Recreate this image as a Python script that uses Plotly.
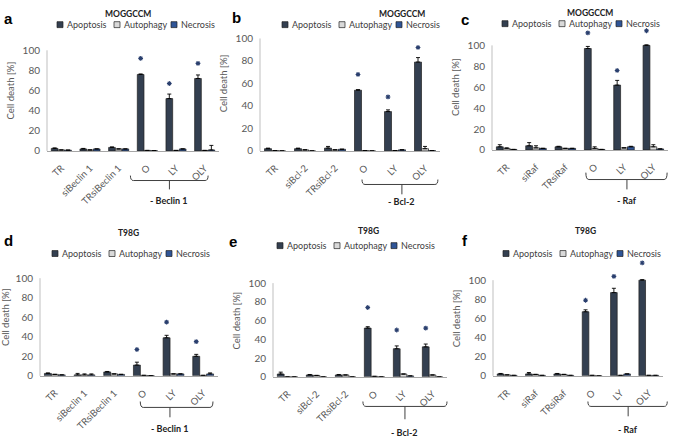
import plotly.graph_objects as go

W, H = 676, 444
FONT = "Lato"
C_APO = "#333f50"
C_AUTO = "#d9d9d9"
C_NEC = "#2f5597"
C_EDGE = "#1f1f1f"
C_TXT = "#595959"
C_STAR = "#2a3f6e"
BARGAP = 0.3
Y_TOP = 120  # head-room above 100 for the significance asterisks

series_names = ["Apoptosis", "Autophagy", "Necrosis"]
series_colors = [C_APO, C_AUTO, C_NEC]

cats_beclin = ["TR", "siBeclin 1", "TRsiBeclin 1", "O", "LY", "OLY"]
cats_bcl = ["TR", "siBcl-2", "TRsiBcl-2", "O", "LY", "OLY"]
cats_raf = ["TR", "siRaf", "TRsiRaf", "O", "LY", "OLY"]
y_ticks = [0, 20, 40, 60, 80, 100]
y_max = 100

# ---- panel a: MOGGCCM, - Beclin 1
apo_a = [2.5, 2.0, 3.5, 76, 52, 72]
apo_err_a = [0.5, 0.5, 0.5, 0.5, 4.5, 3.5]
auto_a = [1.0, 1.0, 2.0, 0.5, 0.5, 0.5]
auto_err_a = [0, 0, 0, 0, 0, 0]
nec_a = [0.8, 2.0, 2.0, 0.3, 2.0, 1.0]
nec_err_a = [0, 0, 0, 0, 0, 4.5]
stars_a = [92, 67, 87]

# ---- panel b: MOGGCCM, - Bcl-2
apo_b = [2.0, 2.0, 2.5, 54, 35, 79]
apo_err_b = [0.5, 0.5, 1.5, 0.5, 1.5, 4.0]
auto_b = [0.3, 1.0, 1.0, 0.3, 0.3, 2.0]
auto_err_b = [0, 0, 0, 0, 0, 2.0]
nec_b = [0, 0, 1.5, 0, 1.0, 0.3]
nec_err_b = [0, 0, 0, 0, 0, 0]
stars_b = [68, 48, 92]

# ---- panel c: MOGGCCM, - Raf
apo_c = [3.0, 4.0, 3.0, 97, 62, 100]
apo_err_c = [2.0, 3.0, 0.5, 2.0, 4.5, 0.5]
auto_c = [1.5, 2.0, 1.5, 1.5, 2.0, 3.0]
auto_err_c = [0.5, 2.0, 0, 1.5, 0, 2.0]
nec_c = [0.5, 1.5, 1.5, 0.5, 3.0, 1.0]
nec_err_c = [0, 0, 0, 0, 0.5, 0]
stars_c = [112, 76, 114]

# ---- panel d: T98G, - Beclin 1
apo_d = [2.5, 1.0, 4.0, 11, 39, 20]
apo_err_d = [0.5, 1.5, 0.5, 3.0, 2.5, 2.0]
auto_d = [1.5, 1.0, 2.0, 0.5, 2.0, 0.5]
auto_err_d = [0, 1.0, 0, 0, 0, 0]
nec_d = [1.0, 1.0, 1.5, 0.3, 2.0, 2.0]
nec_err_d = [0, 1.0, 0, 0, 0, 1.0]
stars_d = [27, 55, 35]

# ---- panel e: T98G, - Bcl-2
apo_e = [3.0, 2.0, 2.0, 52, 30, 32]
apo_err_e = [2.0, 0.5, 0.5, 1.5, 3.0, 3.0]
auto_e = [0, 1.5, 2.0, 0.5, 3.0, 2.0]
auto_err_e = [0, 0, 0, 0, 0, 0]
nec_e = [0, 0, 0, 0, 1.0, 0]
nec_err_e = [0, 0, 0, 0, 0, 0]
stars_e = [74, 50, 52]

# ---- panel f: T98G, - Raf
apo_f = [2.0, 2.0, 2.0, 67, 87, 100]
apo_err_f = [0.5, 1.5, 0.5, 2.0, 4.5, 0.5]
auto_f = [1.0, 1.5, 1.5, 0.5, 0.5, 0.5]
auto_err_f = [0, 0, 0, 0, 0, 0]
nec_f = [0.5, 0.5, 0.5, 0, 2.0, 0.5]
nec_err_f = [0, 0, 0, 0, 0, 0]
stars_f = [79, 104, 118]

panels = [
    dict(letter="a", title="MOGGCCM", cats=cats_beclin, group="- Beclin 1",
         vals=[apo_a, auto_a, nec_a], errs=[apo_err_a, auto_err_a, nec_err_a], stars=stars_a,
         box=(47, 219, 51, 153), title_xy=(128, 14), letter_xy=(8, 19), legend_xy=(57, 25),
         brk=(2.41, 5.12, 3.77), brk_y=(178, 183, 192, 203)),
    dict(letter="b", title="MOGGCCM", cats=cats_bcl, group="- Bcl-2",
         vals=[apo_b, auto_b, nec_b], errs=[apo_err_b, auto_err_b, nec_err_b], stars=stars_b,
         box=(260, 440, 39, 153), title_xy=(402, 14), letter_xy=(236, 18), legend_xy=(282, 25),
         brk=(2.9, 5.43, 4.23), brk_y=(182, 187, 197, 204)),
    dict(letter="c", title="MOGGCCM", cats=cats_raf, group="- Raf",
         vals=[apo_c, auto_c, nec_c], errs=[apo_err_c, auto_err_c, nec_err_c], stars=stars_c,
         box=(492, 668, 46, 152), title_xy=(590, 13), letter_xy=(465, 20), legend_xy=(502, 24),
         brk=(2.7, 5.47, 4.1), brk_y=(175, 182, 192, 203)),
    dict(letter="d", title="T98G", cats=cats_beclin, group="- Beclin 1",
         vals=[apo_d, auto_d, nec_d], errs=[apo_err_d, auto_err_d, nec_err_d], stars=stars_d,
         box=(40, 218, 282, 381), title_xy=(128, 236), letter_xy=(8, 244), legend_xy=(52, 257),
         brk=(2.88, 5.33, 3.88), brk_y=(407, 413, 423, 434)),
    dict(letter="e", title="T98G", cats=cats_bcl, group="- Bcl-2",
         vals=[apo_e, auto_e, nec_e], errs=[apo_err_e, auto_err_e, nec_err_e], stars=stars_e,
         box=(273, 447, 287, 382), title_xy=(368, 234), letter_xy=(233, 245), legend_xy=(277, 249),
         brk=(2.6, 5.5, 4.05), brk_y=(407, 412, 425, 438)),
    dict(letter="f", title="T98G", cats=cats_raf, group="- Raf",
         vals=[apo_f, auto_f, nec_f], errs=[apo_err_f, auto_err_f, nec_err_f], stars=stars_f,
         box=(493, 663, 284, 381), title_xy=(585, 234), letter_xy=(465, 244), legend_xy=(503, 257),
         brk=(2.85, 5.65, 4.27), brk_y=(407, 412, 422, 435)),
]

legend_offsets = [0, 57, 114]


def fx(px):
    return px / W


def fy(py):
    return 1 - py / H


fig = go.Figure()
layout = {}
shapes = []
annotations = []
bar_w = (1 - BARGAP) / 3

for i, p in enumerate(panels, start=1):
    sfx = "" if i == 1 else str(i)
    xa, ya = "x" + sfx, "y" + sfx
    x0, x1, ytop, ybot = p["box"]
    ytop_ext = ybot - (ybot - ytop) * Y_TOP / y_max
    idx = list(range(len(p["cats"])))
    layout["xaxis" + sfx] = dict(
        domain=[fx(x0), fx(x1)], anchor=ya, range=[-0.5, 5.5],
        tickvals=idx, ticktext=p["cats"], tickangle=-45,
        tickfont=dict(family=FONT, size=9.5, color=C_TXT),
        showline=True, linecolor="#a6a6a6", linewidth=1, ticks="",
        ticklabelstandoff=7, showgrid=False, zeroline=False, fixedrange=True)
    layout["yaxis" + sfx] = dict(
        domain=[fy(ybot), fy(ytop_ext)], anchor=xa, range=[0, Y_TOP],
        tickvals=y_ticks, tickfont=dict(family=FONT, size=10, color=C_TXT),
        showline=False, ticks="",
        ticklabelstandoff=6, showgrid=False, zeroline=False, fixedrange=True,
        title=dict(text="Cell death [%]", font=dict(family=FONT, size=9.5, color=C_TXT), standoff=6))
    # y-axis line only from 0 to 100
    shapes.append(dict(type="line", xref=xa + " domain", yref=ya + " domain",
                       x0=0, x1=0, y0=0, y1=y_max / Y_TOP, line=dict(color="#bfbfbf", width=1)))
    for name, vals, errs, color in zip(series_names, p["vals"], p["errs"], series_colors):
        fig.add_trace(go.Bar(
            x=idx, y=vals, name=name, xaxis=xa, yaxis=ya, showlegend=False,
            marker=dict(color=color, line=dict(color=C_EDGE, width=0.7)),
            error_y=dict(type="data", array=errs, arrayminus=[0] * len(errs), symmetric=False,
                         color="black", thickness=0.9, width=2),
            hoverinfo="skip"))
    # significance asterisks above apoptosis bars of O, LY, OLY
    fig.add_trace(go.Scatter(
        x=[3 - bar_w, 4 - bar_w, 5 - bar_w], y=p["stars"], mode="markers",
        marker=dict(symbol="asterisk-open", size=4, color=C_STAR, line=dict(color=C_STAR, width=1.1)),
        cliponaxis=False, xaxis=xa, yaxis=ya, showlegend=False, hoverinfo="skip"))

    # panel letter and title
    annotations.append(dict(text="<b>%s</b>" % p["letter"], x=fx(p["letter_xy"][0]), y=fy(p["letter_xy"][1]),
                            xref="paper", yref="paper", showarrow=False, xanchor="center", yanchor="middle",
                            font=dict(family="Liberation Sans", size=15, color="black")))
    annotations.append(dict(text="<b>%s</b>" % p["title"], x=fx(p["title_xy"][0]), y=fy(p["title_xy"][1]),
                            xref="paper", yref="paper", showarrow=False, xanchor="center", yanchor="middle",
                            font=dict(family=FONT, size=8.5, color="#222222")))

    # manual legend
    lx, ly = p["legend_xy"]
    for off, name, color in zip(legend_offsets, series_names, series_colors):
        sx = lx + off
        shapes.append(dict(type="rect", xref="paper", yref="paper",
                           x0=fx(sx), x1=fx(sx + 6), y0=fy(ly + 3), y1=fy(ly - 3),
                           fillcolor=color, line=dict(color=C_EDGE, width=0.7)))
        annotations.append(dict(text=name, x=fx(sx + 8), y=fy(ly), xref="paper", yref="paper",
                                showarrow=False, xanchor="left", yanchor="middle",
                                font=dict(family=FONT, size=9, color="#404040")))

    # bracket under O, LY, OLY
    unit = (x1 - x0) / 6.0

    def ux(u):
        return x0 + (u + 0.5) * unit

    bl, br, bc = p["brk"]
    yt, yh, yb, ylab = p["brk_y"]
    r = 3
    pl, pr, pc = ux(bl), ux(br), ux(bc)
    path = ("M {a},{b} Q {a},{c} {d},{c} L {e},{c} Q {f},{c} {f},{b} M {g},{c} L {g},{h}").format(
        a=fx(pl), b=fy(yt), c=fy(yh), d=fx(pl + r), e=fx(pr - r), f=fx(pr), g=fx(pc), h=fy(yb))
    shapes.append(dict(type="path", xref="paper", yref="paper", path=path,
                       line=dict(color="#404040", width=1)))
    annotations.append(dict(text="<b>%s</b>" % p["group"], x=fx(pc), y=fy(ylab), xref="paper", yref="paper",
                            showarrow=False, xanchor="center", yanchor="middle",
                            font=dict(family=FONT, size=9, color="#222222")))

fig.update_layout(
    width=W, height=H, margin=dict(l=0, r=0, t=0, b=0),
    paper_bgcolor="white", plot_bgcolor="rgba(0,0,0,0)",
    barmode="group", bargap=BARGAP, bargroupgap=0,
    showlegend=False, shapes=shapes, annotations=annotations,
    font=dict(family=FONT, color=C_TXT),
    **layout)

fig.write_html("out.html")
